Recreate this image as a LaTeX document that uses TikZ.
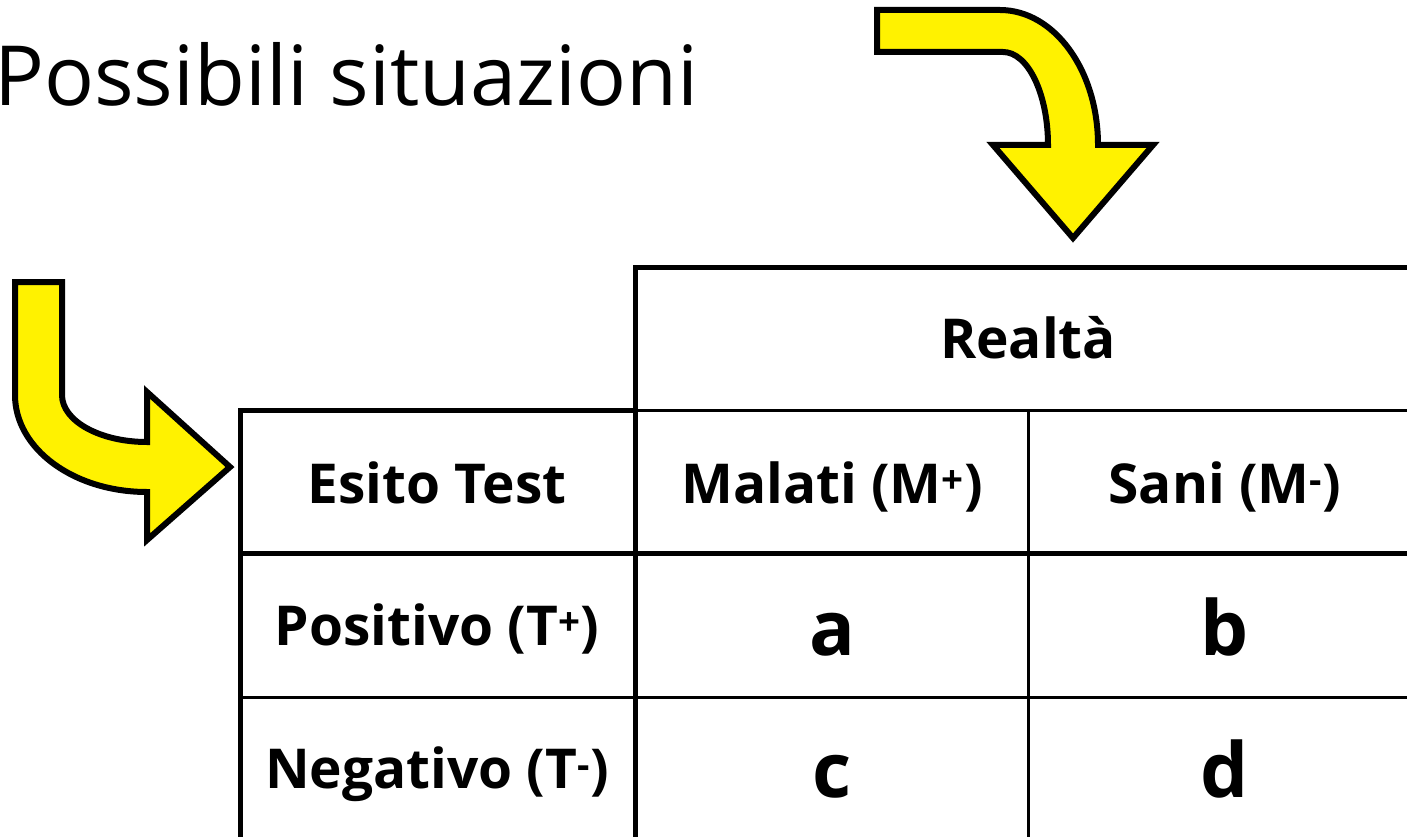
\documentclass[tikz,border=0pt]{standalone}
\usepackage{fontspec}
\setmainfont{Open Sans}
\begin{document}
\begin{tikzpicture}[x=1pt,y=-1pt,line join=miter,
  bigrule/.style={line width=5pt},
  thinrule/.style={line width=3pt},
  bentarrow/.style={fill=yellow,draw=black,line width=6pt},
  cell/.style={anchor=base,font=\bfseries\fontsize{55}{66}\selectfont},
  letter/.style={anchor=base,font=\bfseries\fontsize{76}{90}\selectfont}]
\useasboundingbox (0,0) rectangle (1407,837);
\clip (0,0) rectangle (1407,837);
% title
\node[anchor=base west,inner sep=0pt,font=\fontsize{83}{100}\selectfont] (title) at (-6,106) {Possibili situazioni};
% arrows
\draw[bentarrow] (877,10) -- (1000,10) .. controls (1054,10) and (1098,70) .. (1098,145)
  -- (1153,145) -- (1073,238) -- (993,145) -- (1048,145)
  .. controls (1048,94) and (1028,52) .. (1003,52) -- (877,52) -- cycle;
\draw[bentarrow] (15,282) -- (62,282) -- (62,395) .. controls (62,421) and (100,442) .. (147,442)
  -- (147,392) -- (230,467) -- (147,540) -- (147,492)
  .. controls (74,492) and (15,449) .. (15,395) -- cycle;
% table
\draw[bigrule] (635,850) -- (635,267) -- (1430,267);
\draw[thinrule] (635,410) -- (1430,410);
\draw[bigrule] (240,850) -- (240,410) -- (637,410);
\draw[bigrule] (240,553) -- (1430,553);
\draw[thinrule] (240,697) -- (1430,697);
\draw[thinrule] (1028,410) -- (1028,850);
\node[cell] (realta) at (1028,358) {Realtà};
\node[cell] (esito) at (437,503) {Esito Test};
\node[cell] (malati) at (832,503) {Malati (M\textsuperscript{+})};
\node[cell] (sani) at (1225,503) {Sani (M\textsuperscript{-})};
\node[cell] (pos) at (437,645) {Positivo (T\textsuperscript{+})};
\node[cell] (neg) at (437,788) {Negativo (T\textsuperscript{-})};
\node[letter] (a) at (832,655) {a};
\node[letter] (b) at (1225,655) {b};
\node[letter] (c) at (832,797) {c};
\node[letter] (d) at (1225,797) {d};
\end{tikzpicture}
\end{document}
